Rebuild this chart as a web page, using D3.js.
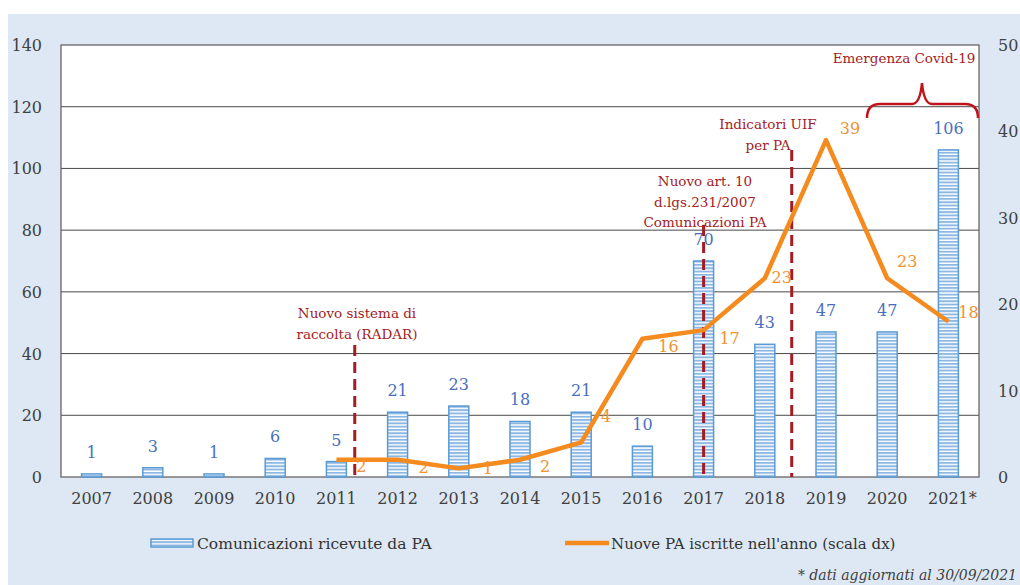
<!DOCTYPE html>
<head>
<meta charset="utf-8">
<script src="https://cdn.jsdelivr.net/npm/d3@7"></script>
<style>
  body { margin: 0; background: #fff; }
  svg { display: block; }
</style>
</head>
<body>
<script>
// data
var years = ["2007","2008","2009","2010","2011","2012","2013","2014","2015","2016","2017","2018","2019","2020","2021*"];
var comunicazioni = [1, 3, 1, 6, 5, 21, 23, 18, 21, 10, 70, 43, 47, 47, 106];
var lineYears = ["2011","2012","2013","2014","2015","2016","2017","2018","2019","2020","2021*"];
var nuovePA = [2, 2, 1, 2, 4, 16, 17, 23, 39, 23, 18];
var leftTicks = [0, 20, 40, 60, 80, 100, 120, 140];
var rightTicks = [0, 10, 20, 30, 40, 50];

var W = 1020, H = 585;
var m = {left: 61, right: 979, top: 45, bottom: 477};

var svg = d3.select("body").append("svg").attr("width", W).attr("height", H)
  .style("font-family", "'DejaVu Serif', serif");

// pattern for striped bars
var defs = svg.append("defs");
var pat = defs.append("pattern").attr("id", "stripes")
  .attr("patternUnits", "userSpaceOnUse").attr("width", 6).attr("height", 3.3);
pat.append("rect").attr("width", 6).attr("height", 3.3).attr("fill", "#ffffff");
pat.append("rect").attr("width", 6).attr("height", 1.9).attr("fill", "#8db8e3");

svg.append("rect").attr("x", 8).attr("y", 14).attr("width", W - 8).attr("height", H - 14).attr("fill", "#dde8f4");
svg.append("rect").attr("x", m.left).attr("y", m.top).attr("width", m.right - m.left).attr("height", m.bottom - m.top)
  .attr("fill", "#ffffff");

var x = d3.scaleBand().domain(years).range([m.left, m.right]);
var yL = d3.scaleLinear().domain([0, 140]).range([m.bottom, m.top]);
var yR = d3.scaleLinear().domain([0, 50]).range([m.bottom, m.top]);

// gridlines
svg.append("g").selectAll("line").data(leftTicks.slice(1, -1)).enter().append("line")
  .attr("x1", m.left).attr("x2", m.right)
  .attr("y1", function (d) { return yL(d); }).attr("y2", function (d) { return yL(d); })
  .attr("stroke", "#4a4a4a").attr("stroke-width", 1);

// frame
svg.append("rect").attr("x", m.left).attr("y", m.top).attr("width", m.right - m.left).attr("height", m.bottom - m.top)
  .attr("fill", "none").attr("stroke", "#666").attr("stroke-width", 1.3);

// left axis labels
svg.append("g").selectAll("text").data(leftTicks).enter().append("text")
  .attr("x", 42).attr("y", function (d) { return yL(d) + 6; })
  .attr("text-anchor", "end").attr("font-size", 16).attr("fill", "#404040")
  .text(function (d) { return d; });

// right axis labels
svg.append("g").selectAll("text").data(rightTicks).enter().append("text")
  .attr("x", 998).attr("y", function (d) { return yR(d) + 6; })
  .attr("text-anchor", "start").attr("font-size", 16).attr("fill", "#404040")
  .text(function (d) { return d; });

// x labels
svg.append("g").selectAll("text").data(years).enter().append("text")
  .attr("x", function (d) { return x(d) + x.bandwidth() / 2 + (d === "2021*" ? 4 : 0); })
  .attr("y", 504).attr("text-anchor", "middle").attr("font-size", 16).attr("fill", "#404040")
  .text(function (d) { return d; });

// bars
var bw = 20;
svg.append("g").selectAll("rect").data(comunicazioni).enter().append("rect")
  .attr("x", function (d, i) { return x(years[i]) + x.bandwidth() / 2 - bw / 2; })
  .attr("y", function (d) { return yL(d); })
  .attr("width", bw)
  .attr("height", function (d) { return m.bottom - yL(d); })
  .attr("fill", "url(#stripes)").attr("stroke", "#5b9bd5").attr("stroke-width", 1.5);

// bar labels
svg.append("g").selectAll("text").data(comunicazioni).enter().append("text")
  .attr("x", function (d, i) { return x(years[i]) + x.bandwidth() / 2; })
  .attr("y", function (d) { return yL(d) - 16; })
  .attr("text-anchor", "middle").attr("font-size", 16).attr("fill", "#4a6fbf")
  .text(function (d) { return d; });

// dashed annotation lines
var red = "#a31c24";
var vlines = [
  {cat: "2011", off: 0.8, top: 345},
  {cat: "2017", off: 0.5, top: 225},
  {cat: "2018", off: 0.94, top: 150}
];
svg.append("g").selectAll("line").data(vlines).enter().append("line")
  .attr("x1", function (d) { return x(d.cat) + x.bandwidth() * d.off; })
  .attr("x2", function (d) { return x(d.cat) + x.bandwidth() * d.off; })
  .attr("y1", function (d) { return d.top; }).attr("y2", m.bottom)
  .attr("stroke", red).attr("stroke-width", 3).attr("stroke-dasharray", "11,6");

// line series
var line = d3.line()
  .x(function (d, i) { return x(lineYears[i]) + x.bandwidth() / 2; })
  .y(function (d) { return yR(d); });
svg.append("path").datum(nuovePA).attr("d", line)
  .attr("fill", "none").attr("stroke", "#f58a1f").attr("stroke-width", 4.5).attr("stroke-linejoin", "round");

// line labels (offsets relative to point)
var lblOff = [[25, 12], [26, 13], [29, 6], [25, 12], [25, -20], [26, 13], [26, 14], [17, 5], [24, -6], [20, -11], [20, -3]];
svg.append("g").selectAll("text").data(nuovePA).enter().append("text")
  .attr("x", function (d, i) { return x(lineYears[i]) + x.bandwidth() / 2 + lblOff[i][0]; })
  .attr("y", function (d, i) { return yR(d) + lblOff[i][1]; })
  .attr("text-anchor", "middle").attr("font-size", 16).attr("fill", "#f0922e")
  .text(function (d) { return d; });

// annotation texts
var notes = [
  {x: 357, y: 318, lines: ["Nuovo sistema di", "raccolta (RADAR)"]},
  {x: 705, y: 186, lines: ["Nuovo art. 10", "d.lgs.231/2007", "Comunicazioni PA"]},
  {x: 768, y: 129, lines: ["Indicatori UIF", "per PA"]},
  {x: 904, y: 63, lines: ["Emergenza Covid-19"]}
];
notes.forEach(function (n) {
  var t = svg.append("text").attr("x", n.x).attr("y", n.y).attr("text-anchor", "middle")
    .attr("font-size", 13.5).attr("fill", red);
  n.lines.forEach(function (l, i) {
    t.append("tspan").attr("x", n.x).attr("dy", i === 0 ? 0 : 20.5).text(l);
  });
});

// brace
svg.append("path")
  .attr("d", "M867,118 Q867,104 880,104 L912,104 Q920,104 922,83 Q924,104 932,104 L965,104 Q978,104 978,118")
  .attr("fill", "none").attr("stroke", "#c0141c").attr("stroke-width", 2.5);

// legend
svg.append("rect").attr("x", 151).attr("y", 539).attr("width", 42).attr("height", 8)
  .attr("fill", "url(#stripes)").attr("stroke", "#5b9bd5").attr("stroke-width", 1.5);
svg.append("text").attr("x", 197).attr("y", 549).attr("font-size", 15.5).attr("fill", "#333")
  .text("Comunicazioni ricevute da PA");
svg.append("line").attr("x1", 565).attr("x2", 609).attr("y1", 543).attr("y2", 543)
  .attr("stroke", "#f58a1f").attr("stroke-width", 4.5);
svg.append("text").attr("x", 611).attr("y", 549).attr("font-size", 15).attr("fill", "#333")
  .text("Nuove PA iscritte nell'anno (scala dx)");

// footnote
svg.append("text").attr("x", 1017).attr("y", 580).attr("text-anchor", "end")
  .attr("font-size", 14).attr("font-style", "italic").attr("fill", "#404040")
  .text("* dati aggiornati al 30/09/2021");
</script>
</body>
